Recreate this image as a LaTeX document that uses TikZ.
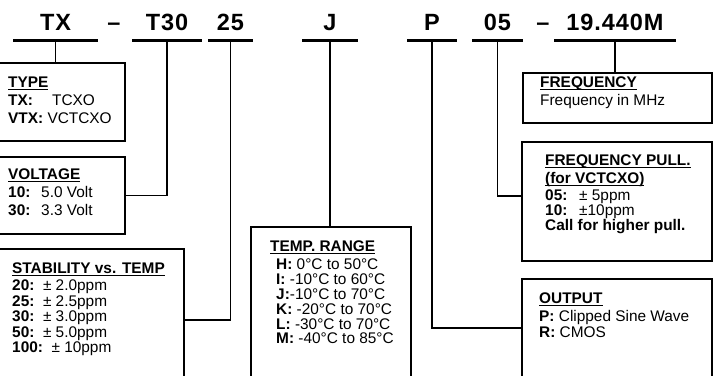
\documentclass[tikz,border=0pt]{standalone}
\usepackage{fontspec}
\setmainfont{Liberation Sans}
\usepackage{tikz}
\usetikzlibrary{positioning}

\newcommand{\boxhead}[1]{%
\setbox0\hbox{\textbf{#1}}%
\rlap{\rule[-2.2pt]{\wd0}{1.4pt}}\box0}

\begin{document}
\begin{tikzpicture}[
x=1pt, y=-1pt,
partno/.style={
font=\fontsize{23.5}{23.5}\selectfont\bfseries\addfontfeature{LetterSpace=4},
anchor=south,
inner xsep=0pt,
inner ysep=10pt,
outer sep=0pt,
text depth=0pt
},
partline/.style={line width=3pt},
wire/.style={line width=1.8pt},
box/.style={
draw,
line width=2.4pt,
inner sep=0pt,
outer sep=0pt,
anchor=north west
},
boxtext/.style={
inner sep=0pt,
align=left,
font=\fontsize{15.4}{#1}\selectfont
},
boxtext/.default=18
]
\useasboundingbox (0,0) rectangle (715,375);
\clip (0,0) rectangle (715,375);

\node[partno, minimum width=85] (tx) at (55.5,40) {TX};
\node[partno] (dasha) at (114,40) {\textendash};
\node[partno, minimum width=70] (t30) at (167,40) {T30};
\node[partno, minimum width=45] (s25) at (230.5,40) {25};
\node[partno, minimum width=56] (tj) at (330,40) {J};
\node[partno, minimum width=50] (op) at (432,40) {P};
\node[partno, minimum width=51] (p05) at (497.5,40) {05};
\node[partno] (dashb) at (543,40) {\textendash};
\node[partno, minimum width=122] (fm) at (615,40) {19.440M};

\foreach \n in {tx,t30,s25,tj,op,p05,fm}
\draw[partline] (\n.south west) -- (\n.south east);

\node[box, minimum width=130, minimum height=78] (type) at (-5,63) {};
\node[box, minimum width=130, minimum height=77] (volt) at (-5,157) {};
\node[box, minimum width=189, minimum height=142] (stab) at (-5,249) {};
\node[box, minimum width=160, minimum height=168] (temp) at (251,227) {};
\node[box, minimum width=189, minimum height=50] (freq) at (523,73) {};
\node[box, minimum width=190, minimum height=119] (pull) at (522,142) {};
\node[box, minimum width=190, minimum height=98] (out) at (522,279) {};

\node[boxtext, below right=14pt and 13pt of type.north west] (typetxt)
{\boxhead{TYPE}\\
\makebox[44pt][l]{\textbf{TX:}}TCXO\\
\textbf{VTX:} VCTCXO};

\node[boxtext, below right=12pt and 13pt of volt.north west] (volttxt)
{\boxhead{VOLTAGE}\\
\makebox[33pt][l]{\textbf{10:}}5.0 Volt\\
\makebox[33pt][l]{\textbf{30:}}3.3 Volt};

\node[boxtext=15.5, below right=14pt and 17pt of stab.north west] (stabtxt)
{\boxhead{STABILITY vs. TEMP}\\[1.5pt]
\textbf{20:}\ \ ± 2.0ppm\\
\textbf{25:}\ \ ± 2.5ppm\\
\textbf{30:}\ \ ± 3.0ppm\\
\textbf{50:}\ \ ± 5.0ppm\\
\textbf{100:}\ \ ± 10ppm};

\node[boxtext=14.8, below right=14pt and 19pt of temp.north west] (temptxt)
{\boxhead{TEMP. RANGE}\\[3.2pt]
\hspace*{6pt}\textbf{H:} 0°C to 50°C\\
\hspace*{6pt}\textbf{I:} -10°C to 60°C\\
\hspace*{6pt}\textbf{J:}-10°C to 70°C\\
\hspace*{6pt}\textbf{K:} -20°C to 70°C\\
\hspace*{6pt}\textbf{L:} -30°C to 70°C\\
\hspace*{6pt}\textbf{M:} -40°C to 85°C};

\node[boxtext, below right=4pt and 17pt of freq.north west] (freqtxt)
{\boxhead{FREQUENCY}\\
Frequency in MHz};

\node[boxtext=15, below right=13pt and 23pt of pull.north west] (pulltxt)
{\boxhead{FREQUENCY PULL.}\\[3pt]
\boxhead{(for VCTCXO)}\\[2pt]
\makebox[34pt][l]{\textbf{05:}}± 5ppm\\
\makebox[34pt][l]{\textbf{10:}}±10ppm\\
\textbf{Call for higher pull.}};

\node[boxtext=16, below right=14pt and 17pt of out.north west] (outtxt)
{\boxhead{OUTPUT}\\[2pt]
\textbf{P:} Clipped Sine Wave\\
\textbf{R:} CMOS};

\draw[wire] (tx.south) -- (tx.south |- type.north);
\draw[wire] (t30.south) |- (volt.east);
\draw[wire] (s25.south) |- (stab.east);
\draw[wire] (tj.south) -- (tj.south |- temp.north);
\draw[wire] (op.south) |- (out.west);
\draw[wire] (p05.south) |- ([yshift=5.5pt]pull.west);
\draw[wire] (fm.south) -- (fm.south |- freq.north);
\end{tikzpicture}
\end{document}
